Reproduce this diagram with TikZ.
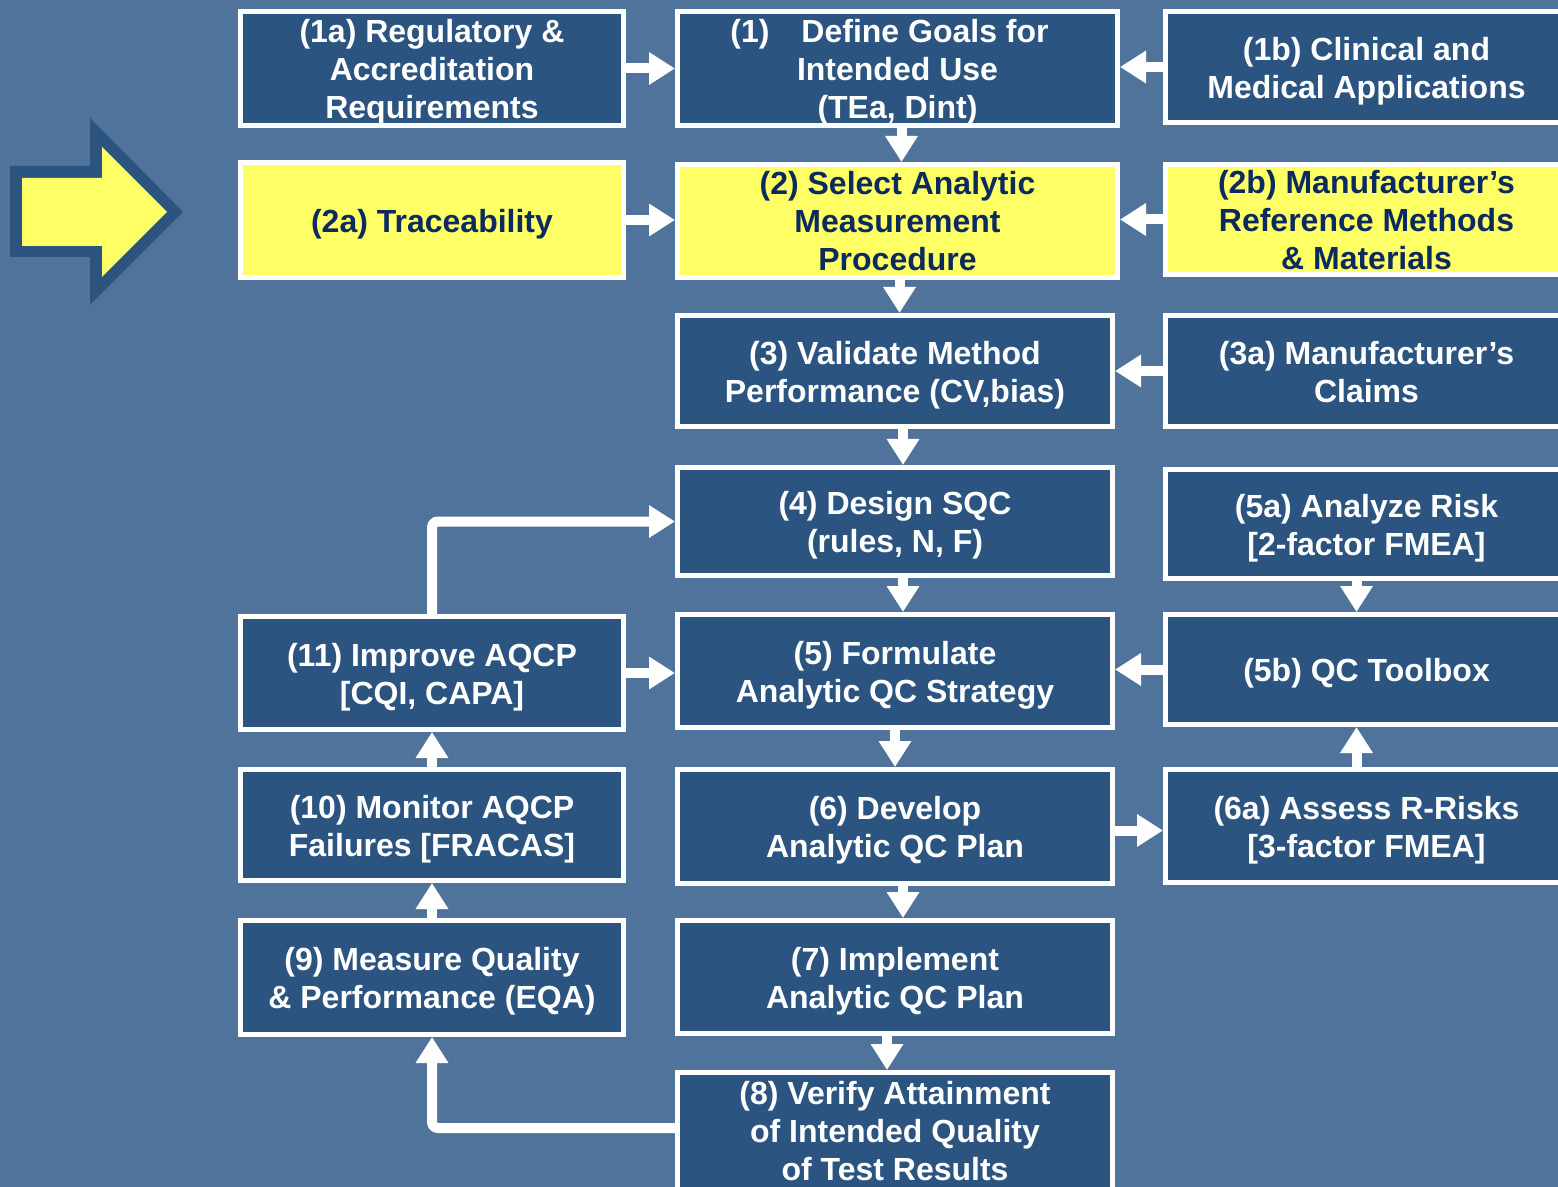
\documentclass[tikz,border=0pt]{standalone}
\usepackage{fontspec}
\setmainfont{Liberation Sans}
\usetikzlibrary{arrows.meta,calc}
\definecolor{bgblue}{HTML}{50739B}
\definecolor{boxblue}{HTML}{2C5480}
\definecolor{hiyellow}{HTML}{FFFF66}
\definecolor{navytext}{HTML}{0B2A5E}
\begin{document}
\begin{tikzpicture}[x=0.5pt,y=-0.5pt,
  box/.style={draw=white, line width=2.5pt, fill=boxblue, inner sep=0pt},
  ybox/.style={box, fill=hiyellow},
  txt/.style={text=white, font=\fontsize{16}{19}\selectfont\bfseries,
    align=center, inner sep=0pt},
  ytxt/.style={txt, text=navytext},
  lcol/.style={minimum width=191.5pt},
  mcol/.style={minimum width=220pt},
  mcolb/.style={minimum width=217.5pt},
  rcol/.style={minimum width=201pt},
  arr/.style={draw=white, line width=5pt, -{Triangle[length=13pt,width=15.5pt]}},
]
\fill[bgblue] (0,0) rectangle (1558,1187);
\useasboundingbox (0,0) rectangle (1558,1187);

% big yellow arrow
\fill[boxblue] (10,166) -- (90,166) -- (90,118) -- (183,212) -- (90,305) -- (90,257) -- (10,257) -- cycle;
\fill[hiyellow] (22,178) -- (102,178) -- (102,147) -- (167,212) -- (102,277) -- (102,246) -- (22,246) -- cycle;

% boxes
\node[box,lcol,minimum height=57pt] (n1a) at (432,68.5) {};
\node[box,mcol,minimum height=57pt] (n1) at (897.5,68.5) {};
\node[box,rcol,minimum height=55.5pt] (n1b) at (1366.5,67) {};
\node[ybox,lcol,minimum height=57.5pt] (n2a) at (432,220) {};
\node[ybox,mcol,minimum height=56.5pt] (n2) at (897.5,221) {};
\node[ybox,rcol,minimum height=55pt] (n2b) at (1366.5,219.5) {};
\node[box,mcolb,minimum height=55.5pt] (n3) at (895,371) {};
\node[box,rcol,minimum height=55.5pt] (n3a) at (1366.5,371) {};
\node[box,mcolb,minimum height=54pt] (n4) at (895,521.5) {};
\node[box,rcol,minimum height=54.5pt] (n5a) at (1366.5,524) {};
\node[box,lcol,minimum height=56.5pt] (n11) at (432,673) {};
\node[box,mcolb,minimum height=56.5pt] (n5) at (895,671) {};
\node[box,rcol,minimum height=55pt] (n5b) at (1366.5,669.5) {};
\node[box,lcol,minimum height=55.5pt] (n10) at (432,825) {};
\node[box,mcolb,minimum height=57pt] (n6) at (895,826.5) {};
\node[box,rcol,minimum height=56.5pt] (n6a) at (1366.5,826) {};
\node[box,lcol,minimum height=57pt] (n9) at (432,977.5) {};
\node[box,mcolb,minimum height=56.5pt] (n7) at (895,977) {};
\node[box,mcolb,minimum height=58.5pt] (n8) at (895,1131) {};

% texts
\node[txt] (t1a) at ([yshift=-2pt]n1a.center) {(1a) Regulatory \&\\Accreditation\\Requirements};
\node[txt] (t1) at ([yshift=-2pt]n1.center) {(1)\quad Define Goals for\hspace*{8pt}\\Intended Use\\(TEa, Dint)};
\node[txt] (t1b) at ([yshift=-2pt]n1b.center) {(1b) Clinical and\\Medical Applications};
\node[ytxt] (t2a) at ([yshift=-2pt]n2a.center) {(2a) Traceability};
\node[ytxt] (t2) at (n2.center) {(2) Select Analytic\\Measurement\\Procedure};
\node[ytxt] (t2b) at ([yshift=-0.5pt]n2b.center) {(2b) Manufacturer’s\\Reference Methods\\\& Materials};
\node[txt] (t3) at ([yshift=-2pt]n3.center) {(3) Validate Method\\Performance (CV,bias)};
\node[txt] (t3a) at ([yshift=-0.5pt]n3a.center) {(3a) Manufacturer’s\\Claims};
\node[txt] (t4) at ([yshift=-2pt]n4.center) {(4) Design SQC\\(rules, N, F)};
\node[txt] (t5a) at ([yshift=-2pt]n5a.center) {(5a) Analyze Risk\\{[}2-factor FMEA{]}};
\node[txt] (t11) at ([yshift=-2pt]n11.center) {(11) Improve AQCP\\{[}CQI, CAPA{]}};
\node[txt] (t5) at ([yshift=-2pt]n5.center) {(5) Formulate\\Analytic QC Strategy};
\node[txt] (t5b) at ([yshift=-2pt]n5b.center) {(5b) QC Toolbox};
\node[txt] (t10) at ([yshift=-2pt]n10.center) {(10) Monitor AQCP\\Failures {[}FRACAS{]}};
\node[txt] (t6) at ([yshift=-2pt]n6.center) {(6) Develop\\Analytic QC Plan};
\node[txt] (t6a) at ([yshift=-2pt]n6a.center) {(6a) Assess R-Risks\\{[}3-factor FMEA{]}};
\node[txt] (t9) at ([yshift=-2pt]n9.center) {(9) Measure Quality\\\& Performance (EQA)};
\node[txt] (t7) at ([yshift=-2pt]n7.center) {(7) Implement\\Analytic QC Plan};
\node[txt] (t8) at (n8.center) {(8) Verify Attainment\\of Intended Quality\\of Test Results};

% connectors
\draw[arr] (n1a.east) -- (n1a.east -| n1.west);
\draw[arr] (n1b.west) -- (n1b.west -| n1.east);
\draw[arr] ([xshift=2pt]n1.south) -- ([xshift=2pt]n1.south |- n2.north);
\draw[arr] (n2a.east) -- (n2a.east -| n2.west);
\draw[arr] (n2b.west) -- (n2b.west -| n2.east);
\draw[arr] ([xshift=1pt]n2.south) -- ([xshift=1pt]n2.south |- n3.north);
\draw[arr] (n3a.west) -- (n3a.west -| n3.east);
\draw[arr] ([xshift=4pt]n3.south) -- ([xshift=4pt]n3.south |- n4.north);
\draw[arr] ([xshift=4pt]n4.south) -- ([xshift=4pt]n4.south |- n5.north);
\draw[arr] ([xshift=-5pt]n5a.south) -- ([xshift=-5pt]n5a.south |- n5b.north);
\draw[arr] (n5b.west) -- (n5b.west -| n5.east);
\draw[arr] (n11.east) -- (n11.east -| n5.west);
\draw[arr,rounded corners=3pt] (n11.north) |- (n4.west);
\draw[arr] (n5.south) -- (n6.north);
\draw[arr] ([yshift=-2pt]n6.east) -- ([yshift=-2pt]n6.east -| n6a.west);
\draw[arr] ([xshift=-5pt]n6a.north) -- ([xshift=-5pt]n6a.north |- n5b.south);
\draw[arr] ([xshift=4pt]n6.south) -- ([xshift=4pt]n6.south |- n7.north);
\draw[arr] ([xshift=-4pt]n7.south) -- ([xshift=-4pt]n7.south |- n8.north);
\draw[arr,rounded corners=3pt] ([yshift=1.5pt]n8.west) -| (n9.south);
\draw[arr] (n9.north) -- (n10.south);
\draw[arr] (n10.north) -- (n11.south);
\end{tikzpicture}
\end{document}
